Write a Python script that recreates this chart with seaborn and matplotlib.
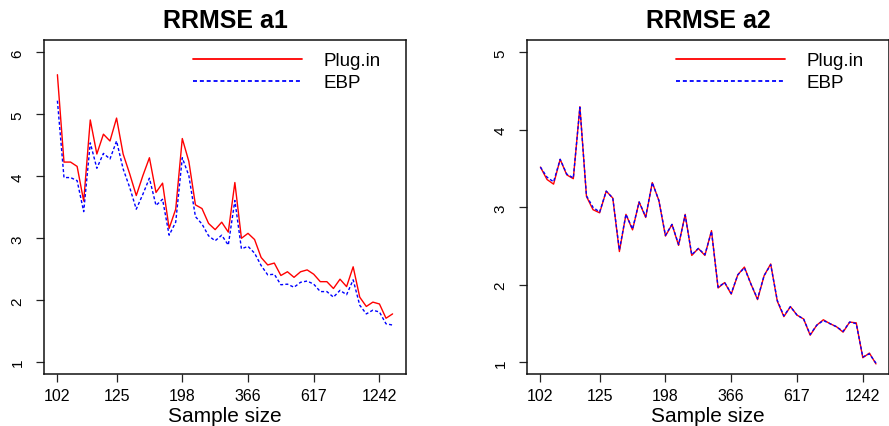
import numpy as np
import pandas as pd
import matplotlib
matplotlib.use("Agg")
import matplotlib.pyplot as plt
import seaborn as sns

# RRMSE values (52 sample-size points each)
a1_plugin = [5.64, 4.23, 4.23, 4.16, 3.60, 4.91, 4.36, 4.68, 4.57, 4.94,
             4.36, 4.04, 3.69, 4.01, 4.30, 3.74, 3.89, 3.16, 3.47, 4.61,
             4.24, 3.54, 3.48, 3.24, 3.14, 3.26, 3.10, 3.90, 3.00, 3.08,
             2.98, 2.69, 2.57, 2.60, 2.40, 2.46, 2.37, 2.46, 2.49, 2.42,
             2.30, 2.30, 2.19, 2.34, 2.22, 2.54, 2.05, 1.90, 1.97, 1.94,
             1.71, 1.78]
a1_ebp = [5.22, 3.98, 3.98, 3.93, 3.43, 4.54, 4.13, 4.37, 4.28, 4.57,
          4.12, 3.82, 3.47, 3.71, 3.97, 3.53, 3.63, 3.05, 3.26, 4.30,
          4.01, 3.35, 3.23, 3.04, 2.96, 3.05, 2.89, 3.61, 2.83, 2.87,
          2.76, 2.56, 2.41, 2.42, 2.25, 2.26, 2.21, 2.29, 2.31, 2.26,
          2.14, 2.14, 2.05, 2.16, 2.09, 2.33, 1.92, 1.78, 1.84, 1.81,
          1.62, 1.60]
a2_plugin = [3.52, 3.36, 3.30, 3.62, 3.42, 3.37, 4.30, 3.14, 2.97, 2.93,
             3.21, 3.12, 2.43, 2.91, 2.71, 3.07, 2.87, 3.32, 3.09, 2.63,
             2.78, 2.51, 2.91, 2.38, 2.47, 2.38, 2.70, 1.96, 2.03, 1.88,
             2.13, 2.23, 2.01, 1.81, 2.12, 2.27, 1.79, 1.59, 1.72, 1.61,
             1.56, 1.35, 1.48, 1.55, 1.50, 1.46, 1.39, 1.52, 1.51, 1.06,
             1.12, 0.98]
a2_ebp = [3.52, 3.39, 3.33, 3.62, 3.43, 3.38, 4.29, 3.15, 3.00, 2.94,
          3.21, 3.12, 2.45, 2.91, 2.72, 3.07, 2.88, 3.32, 3.09, 2.64,
          2.78, 2.52, 2.90, 2.39, 2.47, 2.39, 2.69, 1.97, 2.03, 1.89,
          2.13, 2.22, 2.01, 1.82, 2.12, 2.26, 1.80, 1.60, 1.72, 1.61,
          1.56, 1.36, 1.48, 1.54, 1.50, 1.46, 1.40, 1.52, 1.50, 1.07,
          1.11, 0.99]

tick_pos = [1, 10, 20, 30, 40, 50]
tick_labels = ["102", "125", "198", "366", "617", "1242"]
methods = ["Plug.in", "EBP"]

sns.set_style("ticks")
plt.rcParams["font.family"] = ["Liberation Sans", "DejaVu Sans"]
plt.rcParams["text.color"] = "black"
plt.rcParams["axes.labelcolor"] = "black"
plt.rcParams["xtick.color"] = "black"
plt.rcParams["ytick.color"] = "black"

fig = plt.figure(figsize=(8.89, 4.27), dpi=100)
W, H = 889, 427


def px_axes(x0, x1, y0, y1):
    return fig.add_axes([x0 / W, 1 - y1 / H, (x1 - x0) / W, (y1 - y0) / H])


def panel(ax, plugin, ebp, title, ylim, yticks, leg_x):
    n = len(plugin)
    idx = np.arange(1, n + 1)
    df = pd.DataFrame({
        "idx": np.concatenate([idx, idx]),
        "RRMSE": np.concatenate([plugin, ebp]),
        "Method": [methods[0]] * n + [methods[1]] * n,
    })
    sns.lineplot(data=df, x="idx", y="RRMSE", hue="Method", style="Method",
                 palette={"Plug.in": "#ff0000", "EBP": "#0000ff"},
                 dashes={"Plug.in": "", "EBP": (2.2, 1.6)},
                 linewidth=1.0, ax=ax, legend=False)
    ax.set_xlim(1 - 0.04 * (n - 1), n + 0.04 * (n - 1))
    ax.set_ylim(*ylim)
    ax.set_xticks(tick_pos)
    ax.set_xticklabels(tick_labels, fontsize=11.5)
    ax.set_yticks(yticks)
    ax.set_yticklabels([str(v) for v in yticks], rotation=90, va="center", fontsize=11)
    ax.tick_params(axis="both", direction="out", length=6, width=0.9, color="#222222")
    ax.tick_params(axis="x", pad=4)
    ax.tick_params(axis="y", pad=8)
    for s in ax.spines.values():
        s.set_visible(True)
        s.set_linewidth(1.1)
        s.set_color("#111111")
    ax.set_xlabel("Sample size", fontsize=15, labelpad=2)
    ax.set_ylabel("")
    ax.set_title(title, fontsize=18, fontweight="bold", pad=9)
    lines = ax.get_lines()
    leg = ax.legend(lines[:2], methods, loc="upper left",
                    bbox_to_anchor=(leg_x / W, 1 - 53 / H),
                    bbox_transform=fig.transFigure, frameon=False,
                    fontsize=13.5, handlelength=5.8, handletextpad=1.15,
                    labelspacing=0.27, borderpad=0, borderaxespad=0)
    for h in leg.get_lines():
        h.set_linewidth(1.3)


ax1 = px_axes(44, 406, 41, 375)
ax2 = px_axes(527, 889.4, 41, 375)
panel(ax1, a1_plugin, a1_ebp, "RRMSE a1", (0.81, 6.2), [1, 2, 3, 4, 5, 6], 193)
panel(ax2, a2_plugin, a2_ebp, "RRMSE a2", (0.85, 5.16), [1, 2, 3, 4, 5], 676)

fig.savefig("out.png", dpi=100)
